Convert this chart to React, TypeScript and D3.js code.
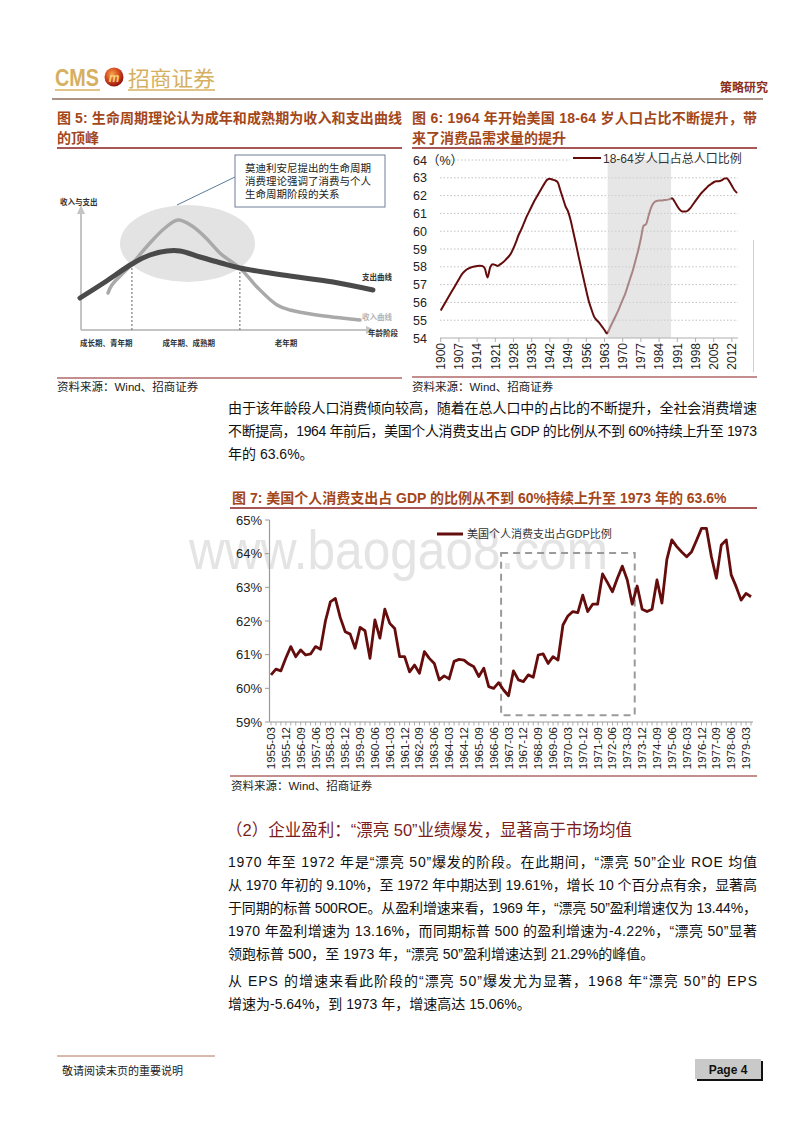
import React from 'react';
import * as d3 from 'd3';

const FONT = "'Liberation Sans', Arial, 'Noto Sans CJK SC', sans-serif";
const CJK = "'Noto Sans CJK SC', 'Liberation Sans', sans-serif";
const TITLE_C = '#a3471b';
const RULE_C = '#8b1f1f';
const LINE_C = '#650c0c';

// ---------- Figure 5 (schematic life-cycle curves) ----------
const spendAge = [0, 8.5, 17.6, 23.7, 29.5, 33.9, 40.7, 47.8, 54.2, 68.8, 85.8, 99.3];
const spendLevel = [25.6, 38.4, 52.8, 60, 63.2, 63.2, 58.4, 53.6, 49.6, 44, 38.4, 32];
const incomeAge = [9.5, 10.8, 17.6, 23.7, 28.8, 33.2, 38, 42.7, 47.8, 54.2, 60, 66.8, 71.2, 80.3, 94.9];
const incomeLevel = [29.6, 36, 52.8, 69.6, 81.6, 88, 83.2, 73.6, 60.8, 49.6, 34.4, 20, 16, 12, 8];
const stageBreaks = [17.6, 54.2];
const stageLabels = ['成长期、青年期', '成年期、成熟期', '老年期'];
const stageLabelAge = [0, 28, 66];
const calloutLines = ['莫迪利安尼提出的生命周期', '消费理论强调了消费与个人', '生命周期阶段的关系'];

// ---------- Figure 6 ----------
const popStartYear = 1900;
const popShare = [
  55.55, 55.8, 56.05, 56.3, 56.55, 56.8, 57.05, 57.3, 57.55, 57.72,
  57.85, 57.93, 57.98, 58.02, 58.05, 58.06, 58.05, 57.9, 57.4, 57.95,
  58.15, 58.1, 58.05, 58.15, 58.25, 58.4, 58.55, 58.75, 59.05, 59.4,
  59.8, 60.1, 60.45, 60.8, 61.1, 61.4, 61.7, 61.95, 62.2, 62.45,
  62.7, 62.9, 62.95, 62.9, 62.85, 62.75, 62.3, 61.85, 61.4, 61.1,
  60.6, 59.95, 59.3, 58.6, 57.95, 57.3, 56.65, 56.05, 55.6, 55.2,
  55.0, 54.85, 54.65, 54.45, 54.25, 54.55, 54.85, 55.15, 55.45, 55.8,
  56.15, 56.5, 56.95, 57.4, 57.85, 58.4, 58.95, 59.6, 60.3, 60.4,
  60.9, 61.35, 61.6, 61.7, 61.72, 61.72, 61.75, 61.76, 61.8, 61.85,
  61.65, 61.4, 61.2, 61.1, 61.1, 61.15, 61.3, 61.5, 61.7, 61.9,
  62.1, 62.25, 62.4, 62.55, 62.65, 62.75, 62.8, 62.8, 62.85, 62.95,
  62.98, 62.8, 62.55, 62.3, 62.15,
];
const popTickLabels = ['1900', '1907', '1914', '1921', '1928', '1935', '1942', '1949', '1956', '1963', '1970', '1977', '1984', '1991', '1998', '2005', '2012'];
const popYTicks = [54, 55, 56, 57, 58, 59, 60, 61, 62, 63, 64];
const popShadeRange = [1964.2, 1988.6];
const popLegend = '18-64岁人口占总人口比例';

// ---------- Figure 7 ----------
const pceYears = d3.range(1955, 1980);
const pceMonths = ['03', '06', '09', '12'];
const pceShare = [
  60.40, 60.57, 60.52, 60.90, 61.24, 60.94, 61.14, 60.99, 61.02, 61.24,
  61.16, 62.0, 62.57, 62.67, 62.1, 61.68, 61.61, 61.19, 61.81, 61.71,
  60.89, 62.03, 61.49, 62.35, 61.93, 61.78, 60.94, 60.94, 60.49, 60.69,
  60.45, 61.09, 60.89, 60.74, 60.25, 60.37, 60.28, 60.80, 60.86, 60.84,
  60.72, 60.64, 60.35, 60.60, 60.05, 60.0, 60.17, 59.95, 59.78, 60.52,
  60.25, 60.2, 60.40, 60.33, 60.99, 61.02, 60.74, 60.94, 60.84, 61.88,
  62.15, 62.28, 62.25, 62.77, 62.28, 62.5, 62.5, 63.40, 63.14, 62.87,
  63.27, 63.63, 63.22, 62.50, 63.04, 62.35, 62.28, 62.35, 63.22, 62.53,
  63.83, 64.41, 64.21, 64.05, 63.91, 64.06, 64.4, 64.75, 64.75, 63.91,
  63.27, 64.26, 64.41, 63.37, 63.02, 62.62, 62.82, 62.72,
];
const pceTickLabels = [
  '1955-03', '1955-12', '1956-09', '1957-06', '1958-03', '1958-12', '1959-09', '1960-06', '1961-03', '1961-12',
  '1962-09', '1963-06', '1964-03', '1964-12', '1965-09', '1966-06', '1967-03', '1967-12', '1968-09', '1969-06',
  '1970-03', '1970-12', '1971-09', '1972-06', '1973-03', '1973-12', '1974-09', '1975-06', '1976-03', '1976-12',
  '1977-09', '1978-06', '1979-03',
];
const pceYTicks = [59, 60, 61, 62, 63, 64, 65];
const pceBoxQuarters = [46.5, 73.5];
const pceBoxValues = [59.2, 64.02];
const pceLegend = '美国个人消费支出占GDP比例';

// ---------- Text ----------
const para1 = [
  '由于该年龄段人口消费倾向较高，随着在总人口中的占比的不断提升，全社会消费增速',
  '不断提高，1964 年前后，美国个人消费支出占 GDP 的比例从不到 60%持续上升至 1973',
  '年的 63.6%。',
];
const para2 = [
  '1970 年至 1972 年是“漂亮 50”爆发的阶段。在此期间，“漂亮 50”企业 ROE 均值',
  '从 1970 年初的 9.10%，至 1972 年中期达到 19.61%，增长 10 个百分点有余，显著高',
  '于同期的标普 500ROE。从盈利增速来看，1969 年，“漂亮 50”盈利增速仅为 13.44%，',
  '1970 年盈利增速为 13.16%，而同期标普 500 的盈利增速为-4.22%，“漂亮 50”显著',
  '领跑标普 500，至 1973 年，“漂亮 50”盈利增速达到 21.29%的峰值。',
];
const para3 = [
  '从 EPS 的增速来看此阶段的“漂亮 50”爆发尤为显著，1968 年“漂亮 50”的 EPS',
  '增速为-5.64%，到 1973 年，增速高达 15.06%。',
];

function Fig5() {
  const x = d3.scaleLinear().domain([0, 100]).range([80, 375]);
  const y = d3.scaleLinear().domain([0, 100]).range([330, 205]);
  const line = d3.line<number>().curve(d3.curveCatmullRom.alpha(0.5));
  const spend = line(spendAge.map((a, i) => [x(a), y(spendLevel[i])] as any));
  const income = line(incomeAge.map((a, i) => [x(a), y(incomeLevel[i])] as any));
  const tiny = { fontFamily: CJK, fontSize: 7.5, fontWeight: 700 } as const;
  return (
    <g>
      <ellipse cx={187.5} cy={243.5} rx={67.5} ry={38.5} fill="#e3e3e3" />
      {/* axes */}
      <line x1={81} y1={330} x2={81} y2={212} stroke="#c4c4c4" strokeWidth={2} />
      <path d="M77,214 L81,205 L85,214 Z" fill="#c4c4c4" />
      <line x1={81} y1={330} x2={368} y2={330} stroke="#c4c4c4" strokeWidth={2} />
      <path d="M366,326 L375,330 L366,334 Z" fill="#c4c4c4" />
      {stageBreaks.map((b, i) => {
        const yy = y(spendLevel[0]) ;
        const crossY = i === 0 ? y(52.8) : y(49.6);
        return <line key={i} x1={x(b)} x2={x(b)} y1={crossY} y2={330} stroke="#666" strokeWidth={1} strokeDasharray="2,2" />;
      })}
      <path d={income || ''} fill="none" stroke="#a9a9a9" strokeWidth={3.5} strokeLinecap="round" />
      <path d={spend || ''} fill="none" stroke="#4a4a4a" strokeWidth={5} strokeLinecap="round" />
      <text x={60} y={205} {...tiny} fill="#333">收入与支出</text>
      <text x={362} y={280} {...tiny} fill="#333">支出曲线</text>
      <text x={362} y={320} {...tiny} fill="#b5b5b5">收入曲线</text>
      <text x={368} y={336} {...tiny} fill="#333">年龄阶段</text>
      {stageLabels.map((s, i) => (
        <text key={s} x={x(stageLabelAge[i])} y={346} {...tiny} fill="#333">{s}</text>
      ))}
      <line x1={177} y1={205} x2={235} y2={177} stroke="#5b7c9b" strokeWidth={1} />
      <rect x={235} y={155} width={150} height={52} fill="#fff" stroke="#6f7f99" strokeWidth={1} />
      {calloutLines.map((t, i) => (
        <text key={i} x={245} y={172 + i * 13} fontFamily={CJK} fontSize={10.5} fill="#222">{t}</text>
      ))}
    </g>
  );
}

function Fig6() {
  const x = d3.scaleLinear().domain([1900, 2014]).range([440.7, 737.1]);
  const y = d3.scaleLinear().domain([54, 64]).range([338, 160]);
  const pts = popShare.map((v, i) => [x(popStartYear + i), y(v)] as [number, number]);
  const path = d3.line().curve(d3.curveMonotoneX)(pts) || '';
  return (
    <g>
      {popYTicks.filter((t) => t > 54).map((t) => (
        <line key={t} x1={440} x2={t === 64 ? 570 : 738} y1={y(t)} y2={y(t)} stroke="#c0c0c0" strokeWidth={1} strokeDasharray="1.5,2" />
      ))}
      {popYTicks.map((t) => (
        <text key={t} x={413} y={y(t) + 4.5} fontFamily={FONT} fontSize={12.5} fill="#222">{t === 64 ? '64（%）' : String(t)}</text>
      ))}
      <path d={path} fill="none" stroke={LINE_C} strokeWidth={2} />
      <rect x={x(popShadeRange[0])} y={160} width={x(popShadeRange[1]) - x(popShadeRange[0])} height={338 - 160} fill="#d6d6d6" opacity={0.6} />
      <line x1={440} x2={738} y1={338} y2={338} stroke="#b0b0b0" strokeWidth={1.2} />
      {popTickLabels.map((l) => {
        const xx = x(+l);
        return (
          <g key={l}>
            <line x1={xx} x2={xx} y1={338} y2={342} stroke="#b0b0b0" />
            <text transform={`translate(${xx + 4.3},343) rotate(-90)`} textAnchor="end" fontFamily={FONT} fontSize={12} fill="#222">{l}</text>
          </g>
        );
      })}
      <line x1={573} x2={601} y1={158} y2={158} stroke={LINE_C} strokeWidth={2} />
      <text x={603} y={162.5} fontFamily={FONT} fontSize={12} fill="#333">{popLegend}</text>
      <line x1={753.5} x2={753.5} y1={240} y2={372} stroke="#cfcfcf" strokeWidth={1} />
    </g>
  );
}

function Fig7() {
  const quarters: string[] = [];
  pceYears.forEach((yr) => pceMonths.forEach((m) => quarters.push(`${yr}-${m}`)));
  const x = d3.scaleLinear().domain([0, 97]).range([271, 751]);
  const y = d3.scaleLinear().domain([59, 65]).range([722, 520]);
  const path = d3.line<number>().x((_, i) => x(i)).y((v) => y(v))(pceShare) || '';
  return (
    <g>
      <text x={189} y={569} fontFamily={FONT} fontSize={56} fill="#e4e4e4" textLength={419} lengthAdjust="spacingAndGlyphs">www.baogao8.com</text>
      <line x1={269.5} x2={269.5} y1={520} y2={722} stroke="#9a9a9a" strokeWidth={1.2} />
      {pceYTicks.map((t) => (
        <g key={t}>
          <line x1={265} x2={269.5} y1={y(t)} y2={y(t)} stroke="#9a9a9a" />
          <text x={262} y={y(t) + 4.5} textAnchor="end" fontFamily={FONT} fontSize={13} fill="#222">{t}%</text>
        </g>
      ))}
      <line x1={269.5} x2={753} y1={722} y2={722} stroke="#9a9a9a" strokeWidth={1.2} />
      {d3.range(0, 98).map((i) => (
        <line key={i} x1={x(i)} x2={x(i)} y1={722} y2={725.5} stroke="#9a9a9a" strokeWidth={0.8} />
      ))}
      {pceTickLabels.map((l) => {
        const xx = x(quarters.indexOf(l));
        return (
          <text key={l} transform={`translate(${xx + 4},727) rotate(-90)`} textAnchor="end" fontFamily={FONT} fontSize={11.5} fill="#222">{l}</text>
        );
      })}
      <rect x={x(pceBoxQuarters[0])} y={y(pceBoxValues[1])} width={x(pceBoxQuarters[1]) - x(pceBoxQuarters[0])} height={y(pceBoxValues[0]) - y(pceBoxValues[1])} fill="none" stroke="#9a9a9a" strokeWidth={2} strokeDasharray="7,5" />
      <path d={path} fill="none" stroke={LINE_C} strokeWidth={2.8} strokeLinejoin="round" />
      <line x1={437} x2={463} y1={534} y2={534} stroke={LINE_C} strokeWidth={3} />
      <text x={467} y={538} fontFamily={FONT} fontSize={11} fill="#333">{pceLegend}</text>
    </g>
  );
}

function Paragraph({ lines, x0, y0, width, last = false }: { lines: string[]; x0: number; y0: number; width: number; last?: boolean }) {
  return (
    <g>
      {lines.map((l, i) => {
        const justify = i < lines.length - 1 || (last && false);
        return (
          <text key={i} x={x0} y={y0 + i * 23} fontFamily={FONT} fontSize={14} fill="#111"
            {...(justify ? { textLength: width, lengthAdjust: 'spacing' } : {})}>{l}</text>
        );
      })}
    </g>
  );
}

export default function App() {
  return (
    <svg width={800} height={1132} viewBox="0 0 800 1132" style={{ position: 'absolute', left: 0, top: 0, background: '#fff' }}>
      <rect width={800} height={1132} fill="#fff" />
      {/* Header */}
      <defs>
        <radialGradient id="logoG" cx="40%" cy="35%" r="65%">
          <stop offset="0%" stopColor="#f7a34a" />
          <stop offset="60%" stopColor="#d2441c" />
          <stop offset="100%" stopColor="#8f160e" />
        </radialGradient>
      </defs>
      <text x={55} y={86} fontFamily="'Liberation Sans Narrow', 'Liberation Sans', Arial, sans-serif" fontWeight={700} fontSize={23} fill="#d6b062" textLength={44} lengthAdjust="spacingAndGlyphs">CMS</text>
      <circle cx={114} cy={77} r={9.5} fill="url(#logoG)" />
      <text x={114} y={81.5} textAnchor="middle" fontFamily={FONT} fontWeight={700} fontStyle="italic" fontSize={12} fill="#f6d27a">m</text>
      <text x={128} y={86} fontFamily={CJK} fontSize={21} fill="#d6b062" textLength={87} lengthAdjust="spacingAndGlyphs">招商证券</text>
      <line x1={55} x2={100} y1={90} y2={90} stroke="#d6b062" strokeWidth={1.5} />
      <line x1={128} x2={215} y1={90} y2={90} stroke="#d6b062" strokeWidth={1.5} />
      <text x={720} y={92} fontFamily={CJK} fontWeight={700} fontSize={12} fill="#8a2f1c">策略研究</text>
      <line x1={52} x2={763} y1={99} y2={99} stroke="#8f6e5c" strokeWidth={1.5} />

      {/* Figure 5 title */}
      <text x={57} y={123} fontFamily={FONT} fontWeight={700} fontSize={14} fill={TITLE_C} textLength={345} lengthAdjust="spacing">图 5: 生命周期理论认为成年和成熟期为收入和支出曲线</text>
      <text x={57} y={143} fontFamily={FONT} fontWeight={700} fontSize={14} fill={TITLE_C}>的顶峰</text>
      <line x1={57} x2={402} y1={148} y2={148} stroke={RULE_C} strokeWidth={1.5} />
      <Fig5 />
      <line x1={57} x2={402} y1={378} y2={378} stroke={RULE_C} strokeWidth={1.2} />
      <text x={57} y={391} fontFamily={FONT} fontSize={11.5} fill="#222">资料来源：Wind、招商证券</text>

      {/* Figure 6 title */}
      <text x={412} y={123} fontFamily={FONT} fontWeight={700} fontSize={14} fill={TITLE_C} textLength={345} lengthAdjust="spacing">图 6:  1964 年开始美国 18-64 岁人口占比不断提升，带</text>
      <text x={412} y={143} fontFamily={FONT} fontWeight={700} fontSize={14} fill={TITLE_C}>来了消费品需求量的提升</text>
      <line x1={412} x2={757} y1={148} y2={148} stroke={RULE_C} strokeWidth={1.5} />
      <Fig6 />
      <line x1={412} x2={757} y1={377} y2={377} stroke={RULE_C} strokeWidth={1.2} />
      <text x={412} y={391} fontFamily={FONT} fontSize={11.5} fill="#222">资料来源：Wind、招商证券</text>

      {/* Paragraph */}
      <Paragraph lines={para1} x0={228} y0={413} width={529} />

      {/* Figure 7 */}
      <text x={232} y={503} fontFamily={FONT} fontWeight={700} fontSize={14} fill={TITLE_C}>图 7:  美国个人消费支出占 GDP 的比例从不到 60%持续上升至 1973 年的 63.6%</text>
      <line x1={230} x2={757} y1={508} y2={508} stroke={RULE_C} strokeWidth={1.5} />
      <Fig7 />
      <line x1={230} x2={757} y1={776} y2={776} stroke={RULE_C} strokeWidth={1.2} />
      <text x={231} y={790} fontFamily={FONT} fontSize={11.5} fill="#222">资料来源：Wind、招商证券</text>

      {/* Section heading */}
      <text x={226} y={836} fontFamily={FONT} fontSize={16.5} fill="#7a1d1d">（2）企业盈利：“漂亮 50”业绩爆发，显著高于市场均值</text>
      <Paragraph lines={para2} x0={228} y0={867} width={529} />
      <Paragraph lines={para3} x0={228} y0={986} width={529} />

      {/* Footer */}
      <line x1={57} x2={215} y1={1056} y2={1056} stroke="#b5735f" strokeWidth={1} />
      <text x={62} y={1075} fontFamily={CJK} fontSize={11} fill="#222">敬请阅读末页的重要说明</text>
      <rect x={697} y={1061} width={66} height={20} fill="#111" />
      <rect x={695} y={1059} width={66} height={20} fill="#c9c9c9" />
      <text x={728} y={1074} textAnchor="middle" fontFamily={FONT} fontWeight={700} fontSize={12} fill="#111">Page 4</text>
    </svg>
  );
}
